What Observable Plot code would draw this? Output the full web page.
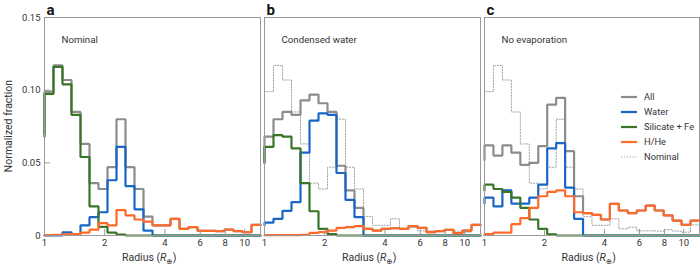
<!DOCTYPE html>
<html>
<head>
<meta charset="utf-8">
<script src="https://cdn.jsdelivr.net/npm/d3@7"></script>
<script src="https://cdn.jsdelivr.net/npm/@observablehq/plot@0.6"></script>
<style>
  body { margin: 0; background: #fff; font-family: Roboto, "DejaVu Sans", sans-serif; color: #333; }
  #wrap { position: relative; width: 700px; height: 270px; overflow: hidden; }
  .panel { position: absolute; top: 0; }
  .lab { position: absolute; font-size: 10.5px; color: #333; white-space: nowrap; }
</style>
</head>
<body>
<div id="wrap"></div>
<script>
// Bin edges (log-spaced radius bins, Earth radii)
const edges = [1, 1.109, 1.2299, 1.364, 1.5131, 1.6782, 1.8612, 2.0642, 2.2894, 2.5391, 2.816, 3.1231,
  3.4641, 3.8418, 4.2608, 4.7255, 5.2415, 5.8131, 6.4474, 7.1504, 7.9302, 8.7949, 9.754, 10.818, 12];

const xTicks = [1, 2, 4, 6, 8, 10];
const yTicks = [0, 0.05, 0.10, 0.15];

const seriesNames = ["All", "Water", "Silicate + Fe", "H/He", "Nominal"];
const seriesColors = ["#8c8c8c", "#1a66c7", "#397526", "#ff6a2b", "#a4a4a4"];

const panelLetters = ["a", "b", "c"];
const panelTitles = ["Nominal", "Condensed water", "No evaporation"];

// value just left of R = 1 (start of each step line)
const preA = {all: 0.07, water: 0, sil: 0.068, hhe: 0};
const preB = {all: 0.05, water: 0.007, sil: 0.05, hhe: 0};
const preC = {all: 0.052, water: 0.022, sil: 0.031, hhe: 0};

// Panel a: Nominal
const aAll   = [0.099, 0.117, 0.107, 0.085, 0.063, 0.036, 0.032, 0.047, 0.080, 0.047, 0.032, 0.013, 0.007, 0.007, 0.0115, 0.0046, 0.0057, 0.0032, 0.0032, 0.003, 0.004, 0.003, 0.0023, 0.0073];
const aWater = [0, 0, 0.0022, 0.001, 0.007, 0.0126, 0.016, 0.038, 0.061, 0.034, 0.018, 0.0034, 0, 0, 0, 0, 0, 0, 0, 0, 0, 0, 0, 0];
const aSil   = [0.0975, 0.116, 0.104, 0.083, 0.054, 0.020, 0.006, 0.002, 0.0007, 0, 0, 0, 0, 0, 0, 0, 0, 0, 0, 0, 0, 0, 0, 0];
const aHHe   = [0.0003, 0.0005, 0.0008, 0.001, 0.002, 0.004, 0.0085, 0.007, 0.0175, 0.0138, 0.011, 0.0095, 0.007, 0.007, 0.0115, 0.0046, 0.0057, 0.0032, 0.0032, 0.003, 0.004, 0.003, 0.0023, 0.0073];

// Panel b: Condensed water
const bAll   = [0.068, 0.080, 0.085, 0.083, 0.093, 0.097, 0.091, 0.085, 0.048, 0.031, 0.019, 0.0046, 0.0034, 0.0046, 0.005, 0.0046, 0.0064, 0.0053, 0.0023, 0.003, 0.0039, 0.0016, 0.0034, 0.0073];
const bWater = [0.0088, 0.0115, 0.017, 0.023, 0.057, 0.079, 0.084, 0.083, 0.043, 0.0245, 0.0126, 0, 0, 0, 0, 0, 0, 0, 0, 0, 0, 0, 0, 0];
const bSil   = [0.061, 0.069, 0.068, 0.060, 0.036, 0.0167, 0.0046, 0.001, 0, 0, 0, 0, 0, 0, 0, 0, 0, 0, 0, 0, 0, 0, 0, 0];
const bHHe   = [0.0002, 0.0002, 0.0002, 0.0003, 0.0005, 0.0018, 0.0023, 0.0034, 0.0053, 0.0057, 0.0064, 0.0046, 0.0034, 0.0046, 0.005, 0.0046, 0.0064, 0.0053, 0.0023, 0.003, 0.0039, 0.0016, 0.0034, 0.0073];

// Panel c: No evaporation
const cAll   = [0.062, 0.055, 0.062, 0.057, 0.0486, 0.050, 0.0615, 0.090, 0.0947, 0.058, 0.0270, 0.0154, 0.0142, 0.011, 0.0218, 0.0172, 0.0154, 0.0172, 0.0206, 0.0172, 0.0138, 0.0103, 0.0073, 0.0103];
const cWater = [0.026, 0.020, 0.031, 0.022, 0.022, 0.026, 0.035, 0.060, 0.0635, 0.033, 0.0115, 0, 0, 0, 0, 0, 0, 0, 0, 0, 0, 0, 0, 0];
const cSil   = [0.035, 0.032, 0.030, 0.026, 0.019, 0.011, 0.0045, 0.0008, 0, 0, 0, 0, 0, 0, 0, 0, 0, 0, 0, 0, 0, 0, 0, 0];
const cHHe   = [0.001, 0.002, 0.002, 0.0078, 0.012, 0.019, 0.027, 0.030, 0.031, 0.027, 0.016, 0.0154, 0.0142, 0.011, 0.0218, 0.0172, 0.0154, 0.0172, 0.0206, 0.0172, 0.0138, 0.0103, 0.0073, 0.0103];

function steps(pre, vals) {
  const pts = [{x: edges[0], y: pre}];
  vals.forEach((v, i) => { pts.push({x: edges[i], y: v}); pts.push({x: edges[i + 1], y: v}); });
  return pts;
}

const panels = [
  {pre: preA, all: aAll, water: aWater, sil: aSil, hhe: aHHe, nominal: false},
  {pre: preB, all: bAll, water: bWater, sil: bSil, hhe: bHHe, nominal: true},
  {pre: preC, all: cAll, water: cWater, sil: cSil, hhe: cHHe, nominal: true}
];

const layout = [
  {left: 0, width: 261, ml: 44, mr: 1},
  {left: 260, width: 221, ml: 4, mr: 1},
  {left: 480, width: 220, ml: 4, mr: 1}
];

const wrap = document.getElementById("wrap");
const plotH = 270, mt = 17, mb = 35;

panels.forEach((p, i) => {
  const L = layout[i];
  const innerW = L.width - L.ml - L.mr, innerH = plotH - mt - mb;
  const marks = [];
  if (p.nominal) {
    marks.push(Plot.line(steps(preA.all, aAll), {x: "x", y: "y", stroke: seriesColors[4], strokeWidth: 1, strokeDasharray: "1.3,1.6", strokeLinejoin: "miter"}));
  }
  marks.push(Plot.line(steps(p.pre.all, p.all), {x: "x", y: "y", stroke: seriesColors[0], strokeWidth: 2.2, strokeLinejoin: "miter"}));
  marks.push(Plot.line(steps(p.pre.water, p.water), {x: "x", y: "y", stroke: seriesColors[1], strokeWidth: 2.2, strokeLinejoin: "miter"}));
  marks.push(Plot.line(steps(p.pre.sil, p.sil), {x: "x", y: "y", stroke: seriesColors[2], strokeWidth: 2.2, strokeLinejoin: "miter"}));
  marks.push(Plot.line(steps(p.pre.hhe, p.hhe), {x: "x", y: "y", stroke: seriesColors[3], strokeWidth: 2.2, strokeLinejoin: "miter"}));
  marks.push(Plot.tickX(xTicks, {x: d => d, stroke: "#999", insetTop: innerH - 6}));
  if (i === 0) marks.push(Plot.tickY(yTicks, {y: d => d, stroke: "#999", insetRight: innerW - 6}));
  marks.push(Plot.frame({stroke: "#9a9a9a"}));
  marks.push(Plot.text([panelLetters[i]], {frameAnchor: "top-left", textAnchor: "start", lineAnchor: "bottom", dx: 2, dy: -3, fontSize: 15, fontWeight: "bold", fill: "#111"}));
  marks.push(Plot.text([panelTitles[i]], {frameAnchor: "top-left", textAnchor: "start", lineAnchor: "middle", dx: 17, dy: 22, fontSize: 9.7, fill: "#333"}));

  const chart = Plot.plot({
    width: L.width, height: plotH,
    marginTop: mt, marginBottom: mb, marginLeft: L.ml, marginRight: L.mr,
    x: {type: "log", domain: [1, 12], ticks: xTicks, tickFormat: d => String(d), tickSize: 0, tickPadding: 4, label: null},
    y: {domain: [0, 0.15], ticks: yTicks, tickFormat: d => d === 0 ? "0" : d.toFixed(2), tickSize: 0, tickPadding: 4, label: null, axis: i === 0 ? "left" : null},
    style: {fontFamily: "Roboto, 'DejaVu Sans', sans-serif", fontSize: "9.5px", color: "#333", background: "transparent", overflow: "visible"},
    marks
  });
  const div = document.createElement("div");
  div.className = "panel";
  div.style.left = L.left + "px";
  div.style.width = L.width + "px";
  div.appendChild(chart);
  wrap.appendChild(div);

  // x axis label
  const xl = document.createElement("div");
  xl.className = "lab";
  xl.innerHTML = 'Radius (<i>R</i><sub style="font-size:7.5px">⊕</sub>)';
  xl.style.top = "251px";
  xl.style.left = (L.left + L.ml + innerW / 2 - 30) + "px";
  wrap.appendChild(xl);
});

// y axis label
const yl = document.createElement("div");
yl.className = "lab";
yl.textContent = "Normalized fraction";
yl.style.left = "8px";
yl.style.top = "126px";
yl.style.transform = "translate(-50%,-50%) rotate(-90deg)";
wrap.appendChild(yl);

// legend (in panel c)
const legend = d3.select(wrap).append("svg")
  .attr("width", 85).attr("height", 80)
  .style("position", "absolute").style("left", "615px").style("top", "88px")
  .style("font-family", "Roboto, 'DejaVu Sans', sans-serif").style("font-size", "9.3px");
seriesNames.forEach((name, i) => {
  const g = legend.append("g").attr("transform", `translate(0,${9 + i * 15})`);
  g.append("line").attr("x1", 6).attr("x2", 22).attr("y1", 0).attr("y2", 0)
    .attr("stroke", seriesColors[i]).attr("stroke-width", i === 4 ? 1 : 2.2)
    .attr("stroke-dasharray", i === 4 ? "1.3,1.6" : null);
  g.append("text").attr("x", 29).attr("y", 0).attr("dy", "0.35em").attr("fill", "#333").text(name);
});
</script>
</body>
</html>
